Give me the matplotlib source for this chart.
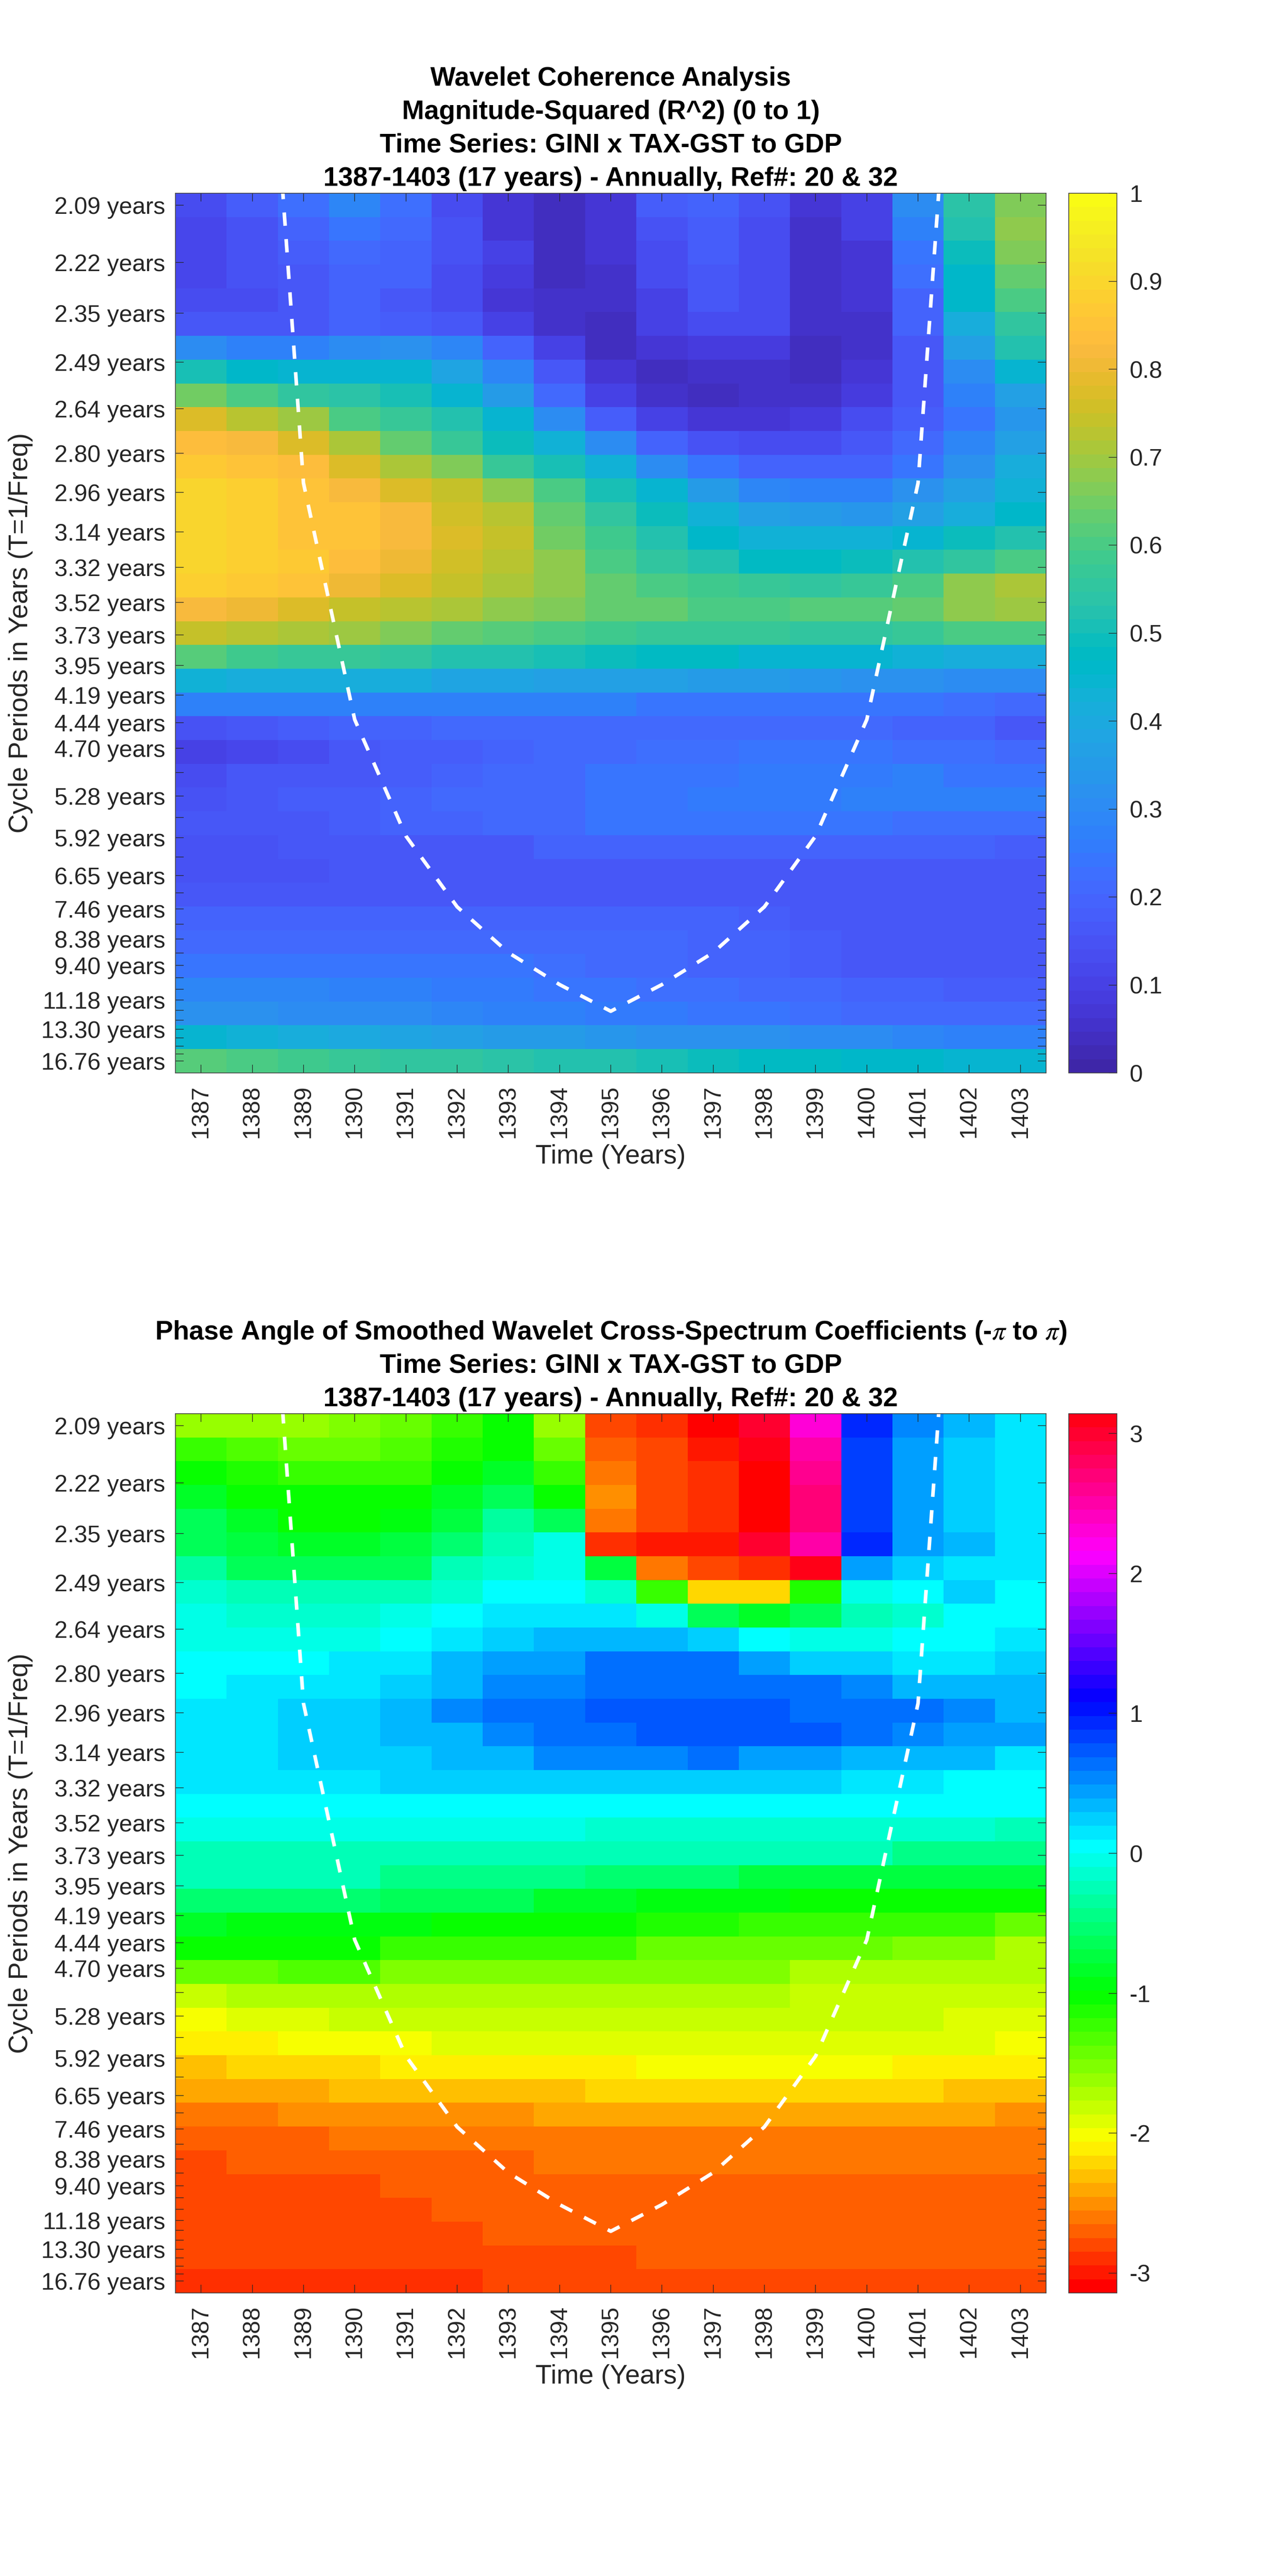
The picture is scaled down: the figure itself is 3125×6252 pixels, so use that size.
import numpy as np
import matplotlib
matplotlib.use('Agg')
import matplotlib.pyplot as plt
from matplotlib.colors import ListedColormap, hsv_to_rgb

plt.rcParams['font.family'] = ['Liberation Sans', 'DejaVu Sans']
plt.rcParams['mathtext.fontset'] = 'stix'

W, H = 3125, 6252

years = list(range(1387, 1404))

# periods of the ticks on the y axis (years), top to bottom
periods = [2.09, 2.22, 2.35, 2.49, 2.64, 2.80, 2.96, 3.14, 3.32, 3.52, 3.73, 3.95, 4.19,
           4.44, 4.70, 4.98, 5.28, 5.59, 5.92, 6.27, 6.65, 7.04, 7.46, 7.90, 8.38, 8.88,
           9.40, 9.96, 10.55, 11.18, 11.84, 12.55, 13.30, 14.09, 14.93, 15.82, 16.76]
no_label = [4.98, 5.59, 6.27, 7.04, 7.90, 8.88, 9.96, 10.55, 11.84, 12.55, 14.09, 14.93, 15.82]

# cone of influence
coi_years = [1388, 1389, 1390, 1391, 1392, 1393, 1394, 1395, 1396, 1397, 1398, 1399, 1400, 1401, 1402]
coi_periods = [1.44, 2.92, 4.41, 5.89, 7.40, 8.87, 10.3, 11.9, 10.3, 8.87, 7.40, 5.89, 4.41, 2.92, 1.44]

coherence = [
    [.13, .17, .22, .28, .22, .13, .06, .03, .07, .17, .19, .14, .06, .10, .29, .53, .66],
    [.11, .14, .19, .24, .20, .14, .07, .03, .07, .14, .17, .13, .05, .09, .26, .51, .67],
    [.11, .14, .17, .20, .19, .14, .09, .03, .07, .13, .17, .12, .04, .07, .24, .49, .65],
    [.11, .14, .16, .19, .18, .13, .08, .03, .05, .12, .16, .12, .04, .07, .22, .46, .63],
    [.13, .13, .15, .18, .16, .13, .07, .04, .04, .10, .15, .12, .04, .06, .19, .45, .59],
    [.15, .15, .16, .18, .17, .15, .10, .05, .03, .09, .13, .12, .04, .05, .18, .40, .55],
    [.29, .27, .27, .30, .31, .28, .19, .10, .03, .06, .08, .08, .03, .05, .15, .36, .51],
    [.50, .45, .44, .44, .43, .38, .28, .15, .06, .03, .05, .05, .03, .06, .15, .30, .44],
    [.64, .59, .54, .53, .50, .44, .34, .20, .09, .05, .03, .05, .05, .08, .15, .26, .36],
    [.76, .72, .68, .60, .56, .51, .43, .29, .17, .10, .07, .07, .08, .12, .17, .24, .33],
    [.83, .81, .77, .70, .63, .56, .49, .42, .29, .19, .14, .12, .13, .16, .20, .28, .36],
    [.86, .85, .83, .76, .71, .65, .57, .50, .42, .30, .24, .19, .18, .19, .23, .31, .41],
    [.89, .87, .85, .82, .77, .73, .67, .59, .50, .43, .35, .28, .26, .27, .31, .36, .42],
    [.89, .87, .85, .85, .81, .75, .72, .63, .54, .48, .42, .36, .34, .33, .36, .41, .45],
    [.89, .87, .85, .85, .81, .76, .73, .64, .58, .52, .46, .42, .42, .42, .43, .48, .51],
    [.89, .87, .86, .83, .80, .75, .72, .67, .60, .55, .51, .47, .47, .49, .52, .55, .60],
    [.87, .86, .84, .80, .76, .74, .70, .67, .62, .60, .58, .56, .55, .56, .60, .67, .70],
    [.81, .79, .76, .74, .72, .71, .67, .66, .63, .62, .60, .60, .61, .61, .63, .67, .69],
    [.73, .72, .70, .68, .65, .63, .61, .60, .58, .57, .56, .56, .55, .55, .56, .59, .59],
    [.61, .58, .57, .56, .55, .52, .51, .50, .49, .47, .47, .44, .43, .43, .42, .41, .41],
    [.42, .41, .41, .41, .41, .38, .37, .36, .36, .36, .34, .35, .33, .31, .31, .30, .29],
    [.27, .27, .26, .27, .27, .27, .27, .27, .27, .24, .24, .24, .24, .23, .23, .22, .21],
    [.14, .16, .17, .18, .18, .20, .20, .20, .21, .21, .21, .21, .21, .21, .18, .18, .16],
    [.10, .11, .13, .15, .17, .17, .19, .20, .21, .22, .22, .23, .23, .23, .22, .22, .21],
    [.12, .15, .16, .16, .17, .18, .20, .21, .23, .23, .23, .25, .25, .25, .26, .24, .24],
    [.14, .16, .17, .17, .19, .20, .21, .21, .23, .23, .25, .25, .25, .26, .26, .26, .26],
    [.16, .16, .16, .17, .18, .19, .20, .21, .23, .23, .23, .24, .24, .24, .22, .22, .22],
    [.14, .14, .16, .16, .16, .16, .16, .18, .18, .18, .18, .19, .19, .19, .18, .18, .17],
    [.14, .14, .14, .15, .16, .16, .16, .16, .16, .16, .16, .16, .16, .16, .16, .16, .16],
    [.15, .15, .15, .15, .16, .16, .16, .16, .16, .16, .16, .16, .16, .16, .16, .16, .16],
    [.18, .18, .18, .18, .18, .18, .18, .18, .18, .18, .18, .17, .16, .16, .16, .16, .16],
    [.21, .21, .21, .21, .21, .21, .20, .20, .20, .20, .19, .18, .17, .16, .16, .16, .16],
    [.24, .24, .24, .24, .23, .23, .23, .22, .21, .20, .19, .18, .17, .16, .16, .16, .16],
    [.28, .28, .28, .27, .27, .25, .25, .24, .23, .22, .22, .20, .20, .18, .18, .17, .17],
    [.31, .31, .30, .29, .29, .28, .27, .27, .25, .25, .24, .23, .22, .21, .21, .20, .20],
    [.43, .42, .41, .39, .37, .36, .35, .34, .33, .32, .32, .31, .30, .29, .28, .27, .27],
    [.61, .60, .58, .57, .55, .54, .53, .52, .51, .50, .48, .47, .47, .46, .45, .44, .44],
]

phase = [
    [-1.66, -1.71, -1.71, -1.57, -1.45, -1.29, -1.10, -1.71, -2.86, -2.98, -3.14, 2.93, 2.24, .92, .52, .30, .12],
    [-1.29, -1.40, -1.48, -1.48, -1.38, -1.20, -1.05, -1.48, -2.76, -2.86, -3.02, 3.00, 2.41, .80, .44, .23, .12],
    [-1.05, -1.17, -1.29, -1.31, -1.29, -1.08, -.85, -1.29, -2.65, -2.86, -2.93, -3.14, 2.53, .80, .44, .23, .12],
    [-.85, -1.05, -1.08, -1.08, -1.08, -.88, -.72, -1.05, -2.55, -2.86, -2.93, -3.14, 2.62, .80, .44, .23, .12],
    [-.68, -.88, -1.05, -1.05, -.95, -.75, -.43, -.68, -2.65, -2.86, -2.93, -3.14, 2.62, .80, .44, .23, .12],
    [-.65, -.79, -.88, -.88, -.79, -.60, -.25, -.12, -2.93, -3.02, -3.02, 2.98, 2.45, .92, .44, .27, .12],
    [-.38, -.65, -.65, -.65, -.65, -.33, -.20, -.12, -.79, -2.65, -2.86, -2.93, 3.03, .44, .23, .12, .12],
    [-.20, -.30, -.27, -.27, -.27, -.17, -.05, 0, -.20, -1.25, -2.27, -2.27, -1.15, -.10, 0, .20, 0],
    [-.08, -.20, -.20, -.20, -.10, 0, .12, .12, .12, -.12, -.65, -.90, -.68, -.25, -.17, 0, 0],
    [-.08, -.08, -.08, -.08, 0, .12, .20, .30, .30, .30, .20, 0, -.08, -.08, 0, 0, .10],
    [0, 0, 0, .10, .10, .27, .35, .44, .58, .58, .58, .42, .20, .20, .10, .10, .20],
    [0, .12, .12, .12, .20, .33, .45, .52, .62, .62, .62, .62, .55, .45, .30, .30, .30],
    [.12, .12, .20, .20, .33, .52, .55, .55, .65, .72, .72, .72, .62, .55, .55, .45, .33],
    [.12, .12, .20, .20, .33, .33, .45, .58, .58, .68, .68, .68, .68, .60, .47, .35, .35],
    [.12, .12, .20, .20, .20, .33, .33, .45, .45, .45, .55, .42, .42, .33, .33, .27, .12],
    [.12, .12, .12, .12, .20, .20, .20, .20, .20, .20, .20, .20, .20, .08, .08, 0, 0],
    [0, 0, 0, 0, 0, 0, 0, 0, 0, 0, 0, 0, 0, -.05, -.05, -.05, -.05],
    [-.12, -.12, -.12, -.12, -.12, -.12, -.12, -.12, -.20, -.20, -.20, -.20, -.20, -.20, -.20, -.20, -.25],
    [-.28, -.28, -.28, -.28, -.28, -.28, -.28, -.28, -.33, -.33, -.33, -.33, -.33, -.33, -.45, -.45, -.45],
    [-.33, -.33, -.33, -.33, -.50, -.50, -.50, -.50, -.60, -.60, -.60, -.75, -.75, -.75, -.75, -.75, -.75],
    [-.60, -.60, -.60, -.60, -.70, -.70, -.70, -.85, -.85, -.95, -.95, -.95, -1.05, -1.05, -1.05, -1.05, -1.05],
    [-.88, -.95, -.95, -.95, -.95, -1.05, -1.05, -1.05, -1.05, -1.17, -1.17, -1.25, -1.25, -1.25, -1.32, -1.32, -1.43],
    [-1.12, -1.12, -1.12, -1.12, -1.24, -1.24, -1.24, -1.32, -1.32, -1.43, -1.43, -1.43, -1.52, -1.52, -1.62, -1.62, -1.72],
    [-1.48, -1.48, -1.38, -1.38, -1.55, -1.55, -1.55, -1.55, -1.62, -1.62, -1.62, -1.62, -1.72, -1.72, -1.72, -1.80, -1.80],
    [-1.85, -1.74, -1.74, -1.74, -1.74, -1.74, -1.74, -1.74, -1.74, -1.74, -1.74, -1.74, -1.82, -1.82, -1.82, -1.82, -1.90],
    [-2.09, -1.95, -1.95, -1.85, -1.85, -1.85, -1.85, -1.85, -1.85, -1.85, -1.85, -1.85, -1.85, -1.85, -1.85, -1.95, -1.95],
    [-2.17, -2.17, -2.05, -2.05, -2.05, -1.95, -1.95, -1.95, -1.95, -1.95, -1.95, -1.95, -1.95, -1.95, -1.95, -1.95, -2.05],
    [-2.37, -2.27, -2.27, -2.27, -2.17, -2.17, -2.17, -2.17, -2.17, -2.07, -2.07, -2.07, -2.07, -2.07, -2.17, -2.17, -2.17],
    [-2.45, -2.45, -2.45, -2.37, -2.37, -2.37, -2.37, -2.37, -2.27, -2.27, -2.27, -2.27, -2.27, -2.27, -2.27, -2.37, -2.37],
    [-2.65, -2.65, -2.55, -2.55, -2.55, -2.55, -2.55, -2.45, -2.45, -2.45, -2.45, -2.45, -2.45, -2.45, -2.45, -2.45, -2.57],
    [-2.77, -2.77, -2.77, -2.65, -2.65, -2.65, -2.65, -2.65, -2.65, -2.65, -2.65, -2.65, -2.65, -2.65, -2.65, -2.65, -2.65],
    [-2.87, -2.77, -2.77, -2.77, -2.77, -2.77, -2.77, -2.65, -2.65, -2.65, -2.65, -2.65, -2.65, -2.65, -2.65, -2.65, -2.65],
    [-2.87, -2.87, -2.87, -2.87, -2.77, -2.77, -2.77, -2.77, -2.77, -2.77, -2.77, -2.77, -2.77, -2.77, -2.77, -2.77, -2.77],
    [-2.87, -2.87, -2.87, -2.87, -2.87, -2.77, -2.77, -2.77, -2.77, -2.77, -2.77, -2.77, -2.77, -2.77, -2.77, -2.77, -2.77],
    [-2.87, -2.87, -2.87, -2.87, -2.87, -2.87, -2.77, -2.77, -2.77, -2.77, -2.77, -2.77, -2.77, -2.77, -2.77, -2.77, -2.77],
    [-2.87, -2.87, -2.87, -2.87, -2.87, -2.87, -2.87, -2.87, -2.87, -2.77, -2.77, -2.77, -2.77, -2.77, -2.77, -2.77, -2.77],
    [-2.97, -2.97, -2.97, -2.97, -2.97, -2.97, -2.87, -2.87, -2.87, -2.87, -2.87, -2.87, -2.87, -2.87, -2.87, -2.87, -2.87],
]

# parula, 64 levels
parula_rgb = [
    [.2422, .1504, .6603], [.2504, .1650, .7076], [.2578, .1818, .7511], [.2647, .1978, .7952],
    [.2706, .2147, .8364], [.2751, .2342, .8710], [.2783, .2559, .8991], [.2803, .2782, .9221],
    [.2813, .3006, .9414], [.2810, .3228, .9579], [.2795, .3447, .9717], [.2760, .3667, .9829],
    [.2699, .3892, .9906], [.2602, .4123, .9952], [.2440, .4358, .9988], [.2206, .4603, .9973],
    [.1963, .4847, .9892], [.1834, .5074, .9798], [.1786, .5289, .9682], [.1764, .5499, .9520],
    [.1687, .5703, .9359], [.1540, .5902, .9218], [.1460, .6091, .9079], [.1380, .6276, .8973],
    [.1248, .6459, .8883], [.1113, .6635, .8763], [.0952, .6798, .8598], [.0689, .6948, .8394],
    [.0297, .7082, .8163], [.0036, .7203, .7917], [.0067, .7312, .7660], [.0433, .7411, .7394],
    [.0964, .7500, .7120], [.1408, .7584, .6842], [.1717, .7670, .6554], [.1938, .7758, .6251],
    [.2161, .7843, .5923], [.2470, .7918, .5567], [.2906, .7973, .5188], [.3406, .8008, .4789],
    [.3909, .8029, .4354], [.4456, .8024, .3909], [.5044, .7993, .3480], [.5616, .7942, .3045],
    [.6174, .7876, .2612], [.6720, .7793, .2227], [.7242, .7698, .1910], [.7738, .7598, .1646],
    [.8203, .7498, .1535], [.8634, .7406, .1596], [.9035, .7330, .1774], [.9393, .7288, .2100],
    [.9728, .7298, .2394], [.9956, .7434, .2371], [.9970, .7659, .2199], [.9952, .7893, .2028],
    [.9892, .8136, .1885], [.9786, .8386, .1766], [.9676, .8639, .1643], [.9610, .8890, .1537],
    [.9597, .9135, .1423], [.9628, .9373, .1265], [.9691, .9606, .1064], [.9769, .9839, .0805],
]
parula = ListedColormap(parula_rgb)

# matlab style hsv(64)
hues = np.arange(64) / 64
hsv64 = ListedColormap(hsv_to_rgb(np.column_stack([hues, np.ones(64), np.ones(64)])))

FS = 41.5
TITLE_FS = 46.5
LABEL_FS = 46.5
TXT = '#262626'
fig = plt.figure(figsize=(W / 100, H / 100), dpi=100)


def box(x0, y0, x1, y1):
    return [x0 / W, 1 - y1 / H, (x1 - x0) / W, (y1 - y0) / H]


def draw_panel(y0, y1, data, cmap, vmin, vmax, cticks, title_lines, shift):
    ax = fig.add_axes(box(426, y0, 2540, y1))
    f = [1 / p for p in periods]
    df = (f[0] - f[-1]) / (len(periods) - 1)
    # the values were read at the lower edge of a colour band, shift moves them inside it
    im = ax.imshow(np.array(data) + shift, cmap=cmap, vmin=vmin, vmax=vmax, aspect='auto',
                   interpolation='nearest', origin='upper',
                   extent=(1386.5, 1403.5, f[-1] - df / 2, f[0] + df / 2))
    ax.plot(coi_years, [1 / p for p in coi_periods], color='white', lw=6.3, linestyle=(0, (3.7, 3.7)),
            dash_capstyle='butt')
    ax.set_xlim(1386.5, 1403.5)
    ax.set_ylim(f[-1] - df / 2, f[0] + df / 2)
    ax.set_xticks(years)
    ax.set_xticklabels([str(y) for y in years], rotation=90, fontsize=FS, color=TXT)
    ax.set_yticks(f)
    ax.set_yticklabels(['' if p in no_label else '%.2f years' % p for p in periods], fontsize=FS, color=TXT)
    ax.tick_params(direction='in', length=14.5, width=1.1, color=TXT, top=True, right=True, pad=18)
    ax.tick_params(axis='x', pad=21)
    for s in ax.spines.values():
        s.set_linewidth(1.3)
        s.set_color('#404040')
    ax.set_xlabel('Time (Years)', fontsize=LABEL_FS, color=TXT, labelpad=11)
    ax.set_ylabel('Cycle Periods in Years (T=1/Freq)', fontsize=LABEL_FS, color=TXT, labelpad=14)

    cax = fig.add_axes(box(2595, y0, 2712, y1))
    cb = fig.colorbar(im, cax=cax)
    cb.set_ticks(cticks)
    cb.set_ticklabels([('%g' % c) for c in cticks])
    cax.tick_params(direction='in', length=14.5, width=1.1, color=TXT, labelsize=FS, labelcolor=TXT, pad=22)
    cb.outline.set_linewidth(1.3)
    cb.outline.set_edgecolor('#404040')

    for i, line in enumerate(title_lines):
        fig.text(1483 / W, 1 - (y0 - 18 - 81 * (len(title_lines) - 1 - i)) / H, line, ha='center', va='baseline',
                 fontsize=TITLE_FS, fontweight='bold', color='black')


draw_panel(469, 2604, coherence, parula, 0, 1, [round(t * .1, 1) for t in range(11)],
           ['Wavelet Coherence Analysis', 'Magnitude-Squared (R^2) (0 to 1)',
            'Time Series: GINI x TAX-GST to GDP', '1387-1403 (17 years) - Annually, Ref#: 20 & 32'], .008)
draw_panel(3431, 5565, phase, hsv64, -np.pi, np.pi, [-3, -2, -1, 0, 1, 2, 3],
           [r'Phase Angle of Smoothed Wavelet Cross-Spectrum Coefficients (-$\pi$ to $\pi$)',
            'Time Series: GINI x TAX-GST to GDP', '1387-1403 (17 years) - Annually, Ref#: 20 & 32'], .05)

fig.savefig('out.png', dpi=100)
